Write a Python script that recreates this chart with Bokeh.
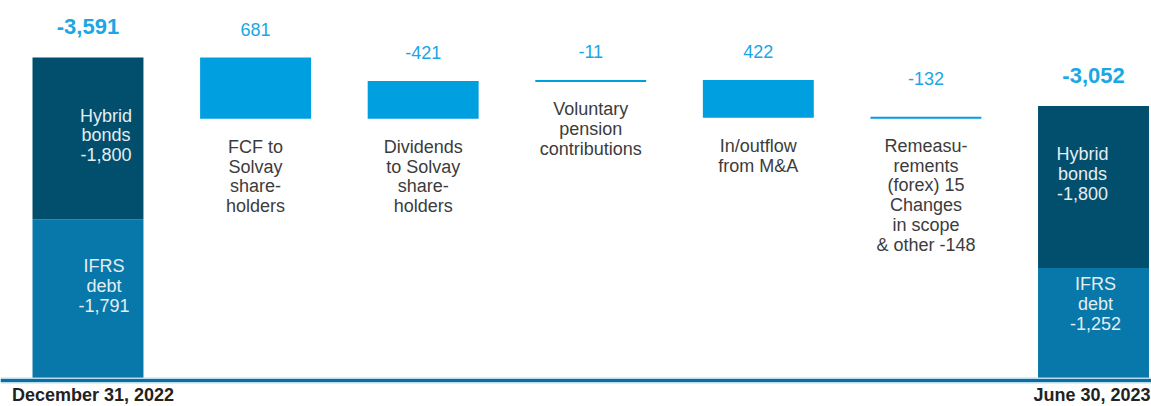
from bokeh.plotting import figure
from bokeh.models import Range1d, Span
from bokeh.embed import file_html
from bokeh.resources import INLINE
from bokeh.core.properties import value

# ---------------- data ----------------
categories = [
    "December 31, 2022",
    "FCF to\nSolvay\nshare-\nholders",
    "Dividends\nto Solvay\nshare-\nholders",
    "Voluntary\npension\ncontributions",
    "In/outflow\nfrom M&A",
    "Remeasu-\nrements\n(forex) 15\nChanges\nin scope\n& other -148",
    "June 30, 2023",
]
opening_hybrid = 1800
opening_ifrs = 1791
changes = [681, -421, -11, 422, -132]
closing_hybrid = 1800
closing_ifrs = 1252
value_labels = ["-3,591", "681", "-421", "-11", "422", "-132", "-3,052"]
hybrid_labels = ["Hybrid\nbonds\n-1,800", "Hybrid\nbonds\n-1,800"]
ifrs_labels = ["IFRS\ndebt\n-1,791", "IFRS\ndebt\n-1,252"]

# ---------------- styles ----------------
FONT = value("Liberation Sans")
DARK = "#024f6d"
MID = "#0778a9"
STEP = "#009fe0"
LABEL = "#1ba6e4"
TXT = "#3c3c3c"
W = 0.662
LH = 0.99

p = figure(width=1151, height=406, output_backend="svg", toolbar_location=None,
           x_range=Range1d(-0.522, 6.346), y_range=Range1d(-289, 4225),
           min_border=0, outline_line_color=None)
p.axis.visible = False
p.grid.visible = False
p.background_fill_color = "white"

n = len(categories)
last = n - 1

# opening / closing stacked bars
tot_x = [0, last]
hyb_bottom = [opening_ifrs, closing_ifrs]
hyb_top = [opening_ifrs + opening_hybrid, closing_ifrs + closing_hybrid]
ifrs_top = [opening_ifrs, closing_ifrs]
p.quad(left=[x - W / 2 for x in tot_x], right=[x + W / 2 for x in tot_x],
       bottom=[0, 0], top=ifrs_top, fill_color=MID, line_color=None)
p.quad(left=[x - W / 2 for x in tot_x], right=[x + W / 2 for x in tot_x],
       bottom=hyb_bottom, top=hyb_top, fill_color=DARK, line_color=None)

# waterfall steps
level = opening_ifrs + opening_hybrid
bx, bb, bt = [], [], []
lx, ly = [], []
lab_x, lab_y = [], []
cat_x, cat_y = [], []
for i, c in enumerate(changes, start=1):
    before = level
    after = level - c
    if abs(c) < 150:
        lx.append(i); ly.append(before)
        cat_y.append(before)
    else:
        bx.append(i); bb.append(min(before, after)); bt.append(max(before, after))
        cat_y.append(min(before, after))
    lab_x.append(i); lab_y.append(max(before, after))
    cat_x.append(i)
    level = after

p.quad(left=[x - W / 2 for x in bx], right=[x + W / 2 for x in bx],
       bottom=bb, top=bt, fill_color=STEP, line_color=None)
p.segment(x0=[x - W / 2 for x in lx], x1=[x + W / 2 for x in lx],
          y0=ly, y1=ly, line_color=STEP, line_width=2)

# baseline
p.add_layout(Span(location=0, dimension="width", line_color="#b8dcec", line_width=6))
p.add_layout(Span(location=0, dimension="width", line_color="#0a6f9f", line_width=3))

# step value labels
p.text(x=lab_x, y=lab_y, text=value_labels[1:-1], text_font=FONT, text_font_size="18px",
       text_color=LABEL, text_align="center", text_baseline="alphabetic", y_offset=-28)
# total value labels
p.text(x=tot_x, y=hyb_top, text=[value_labels[0], value_labels[-1]], text_font=FONT,
       text_font_size="22px", text_font_style="bold", text_color=LABEL,
       text_align="center", text_baseline="alphabetic", y_offset=-31)

# category texts below the steps
p.text(x=cat_x, y=cat_y, text=categories[1:-1], text_font=FONT, text_font_size="18px",
       text_color=TXT, text_align="center", text_baseline="top", y_offset=18,
       text_line_height=LH)

# inner labels in totals
p.text(x=tot_x, y=[(a + b) / 2 for a, b in zip(hyb_bottom, hyb_top)], text=hybrid_labels,
       text_font=FONT, text_font_size="18px", text_color="#e4edf2", text_align="center",
       text_baseline="middle", x_offset=[18, -11], y_offset=[-3, -13], text_line_height=LH)
p.text(x=tot_x, y=[t / 2 for t in ifrs_top], text=ifrs_labels,
       text_font=FONT, text_font_size="18px", text_color="#e4edf2", text_align="center",
       text_baseline="middle", x_offset=[16, 2], y_offset=[-14, -20], text_line_height=LH)

# date labels
p.text(x=[0], y=[0], text=[categories[0]], text_font=FONT, text_font_size="18px",
       text_font_style="bold", text_color="#222222", text_align="left",
       text_baseline="alphabetic", x_offset=-76, y_offset=14)
p.text(x=[last], y=[0], text=[categories[-1]], text_font=FONT, text_font_size="18px",
       text_font_style="bold", text_color="#222222", text_align="right",
       text_baseline="alphabetic", x_offset=57, y_offset=14)

open("out.html", "w").write(file_html(p, INLINE))
